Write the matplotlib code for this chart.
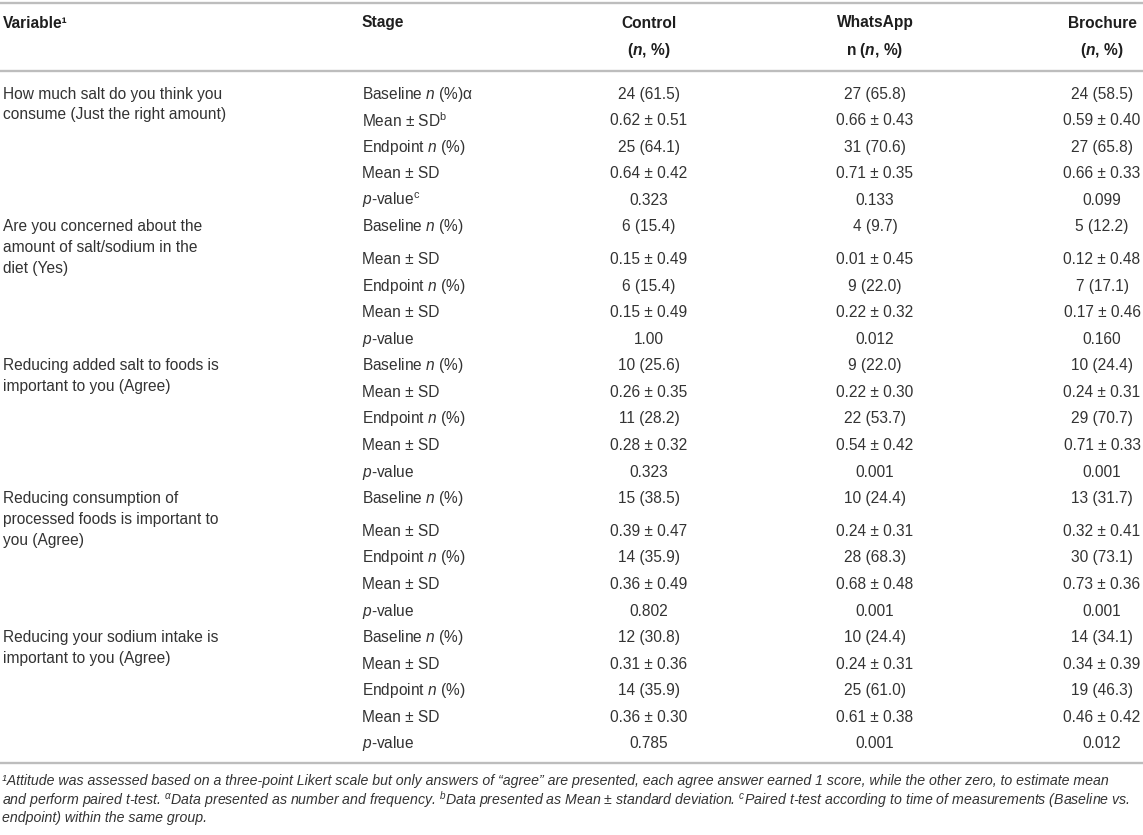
import matplotlib
matplotlib.use("Agg")
import matplotlib.pyplot as plt

plt.rcParams['font.family'] = ['Liberation Sans', 'DejaVu Sans']
plt.rcParams['mathtext.fontset'] = 'custom'
plt.rcParams['mathtext.rm'] = 'Liberation Sans'
plt.rcParams['mathtext.it'] = 'Liberation Sans:italic'
plt.rcParams['mathtext.bf'] = 'Liberation Sans:bold'
plt.rcParams['mathtext.bfit'] = 'Liberation Sans:italic:bold'

# table content
variables = [
    ["How much salt do you think you", "consume (Just the right amount)"],
    ["Are you concerned about the", "amount of salt/sodium in the", "diet (Yes)"],
    ["Reducing added salt to foods is", "important to you (Agree)"],
    ["Reducing consumption of", "processed foods is important to", "you (Agree)"],
    ["Reducing your sodium intake is", "important to you (Agree)"],
]
stages_first = [r"Baseline $n$ (%)α", r"Mean ± SD$^{\mathrm{b}}$", r"Endpoint $n$ (%)",
                r"Mean ± SD", r"$p$-value$^{\mathrm{c}}$"]
stages = [r"Baseline $n$ (%)", r"Mean ± SD", r"Endpoint $n$ (%)", r"Mean ± SD", r"$p$-value"]

groups = ["Control", "WhatsApp", "Brochure"]
group_sub = [r"($\mathbfit{n}$, %)", r"n ($\mathbfit{n}$, %)", r"($\mathbfit{n}$, %)"]

# (n base, % base, mean base, sd base, n end, % end, mean end, sd end, p)
control = [
    (24, 61.5, 0.62, 0.51, 25, 64.1, 0.64, 0.42, "0.323"),
    (6, 15.4, 0.15, 0.49, 6, 15.4, 0.15, 0.49, "1.00"),
    (10, 25.6, 0.26, 0.35, 11, 28.2, 0.28, 0.32, "0.323"),
    (15, 38.5, 0.39, 0.47, 14, 35.9, 0.36, 0.49, "0.802"),
    (12, 30.8, 0.31, 0.36, 14, 35.9, 0.36, 0.30, "0.785"),
]
whatsapp = [
    (27, 65.8, 0.66, 0.43, 31, 70.6, 0.71, 0.35, "0.133"),
    (4, 9.7, 0.01, 0.45, 9, 22.0, 0.22, 0.32, "0.012"),
    (9, 22.0, 0.22, 0.30, 22, 53.7, 0.54, 0.42, "0.001"),
    (10, 24.4, 0.24, 0.31, 28, 68.3, 0.68, 0.48, "0.001"),
    (10, 24.4, 0.24, 0.31, 25, 61.0, 0.61, 0.38, "0.001"),
]
brochure = [
    (24, 58.5, 0.59, 0.40, 27, 65.8, 0.66, 0.33, "0.099"),
    (5, 12.2, 0.12, 0.48, 7, 17.1, 0.17, 0.46, "0.160"),
    (10, 24.4, 0.24, 0.31, 29, 70.7, 0.71, 0.33, "0.001"),
    (13, 31.7, 0.32, 0.41, 30, 73.1, 0.73, 0.36, "0.001"),
    (14, 34.1, 0.34, 0.39, 19, 46.3, 0.46, 0.42, "0.012"),
]

footnotes = [
    "¹Attitude was assessed based on a three-point Likert scale but only answers of \u201cagree\u201d are presented, "
    "each agree answer earned 1 score, while the other zero, to estimate mean",
    r"and perform paired t-test. $^{\alpha}$Data presented as number and frequency. $^{b}$Data presented as "
    r"Mean ± standard deviation. $^{c}$Paired t-test according to time of measurements (Baseline vs.",
    "endpoint) within the same group.",
]

W, H = 1143, 835
fig = plt.figure(figsize=(W / 100, H / 100), dpi=100)
ax = fig.add_axes([0, 0, 1, 1])
ax.set_xlim(0, W)
ax.set_ylim(H, 0)
ax.axis('off')

fs = 11.2
body = '#333333'
head = '#1e1e1e'
line_c = '#bdbdbd'

col_x = [649, 875, 1102]
var_x, stage_x = 3, 362

# rules
for yl in [3, 70.5, 763]:
    ax.plot([0, W], [yl, yl], color=line_c, lw=1.7, solid_capstyle='butt')

# header
ax.text(var_x, 23, "Variable¹", fontsize=fs, weight='bold', color=head, va='center')
ax.text(stage_x, 23, "Stage", fontsize=fs, weight='bold', color=head, va='center')
for x, g, s in zip(col_x, groups, group_sub):
    ax.text(x, 23, g, fontsize=fs, weight='bold', color=head, va='center', ha='center')
    ax.text(x, 50, s, fontsize=fs, weight='bold', color=head, va='center', ha='center')

# body rows
step, gap = 26.58, 6
y = 94
arms = [control, whatsapp, brochure]
for gi, lines in enumerate(variables):
    for li, ln in enumerate(lines):
        ax.text(var_x, y + li * 20.8, ln, fontsize=fs, color=body, va='center')
    labels = stages_first if gi == 0 else stages
    for r in range(5):
        ax.text(stage_x, y, labels[r], fontsize=fs, color=body, va='center')
        for x, arm in zip(col_x, arms):
            v = arm[gi]
            if r == 0:
                s = f"{v[0]} ({v[1]:.1f})"
            elif r == 1:
                s = f"{v[2]:.2f} ± {v[3]:.2f}"
            elif r == 2:
                s = f"{v[4]} ({v[5]:.1f})"
            elif r == 3:
                s = f"{v[6]:.2f} ± {v[7]:.2f}"
            else:
                s = v[8]
            ax.text(x, y, s, fontsize=fs, color=body, va='center', ha='center')
        y += step + (gap if (r == 0 and len(lines) == 3) else 0)

# footnotes
for i, ft in enumerate(footnotes):
    ax.text(2, 781 + i * 18.6, ft, fontsize=10.15, style='italic', color=body, va='center')

fig.savefig("out.png", dpi=100)
